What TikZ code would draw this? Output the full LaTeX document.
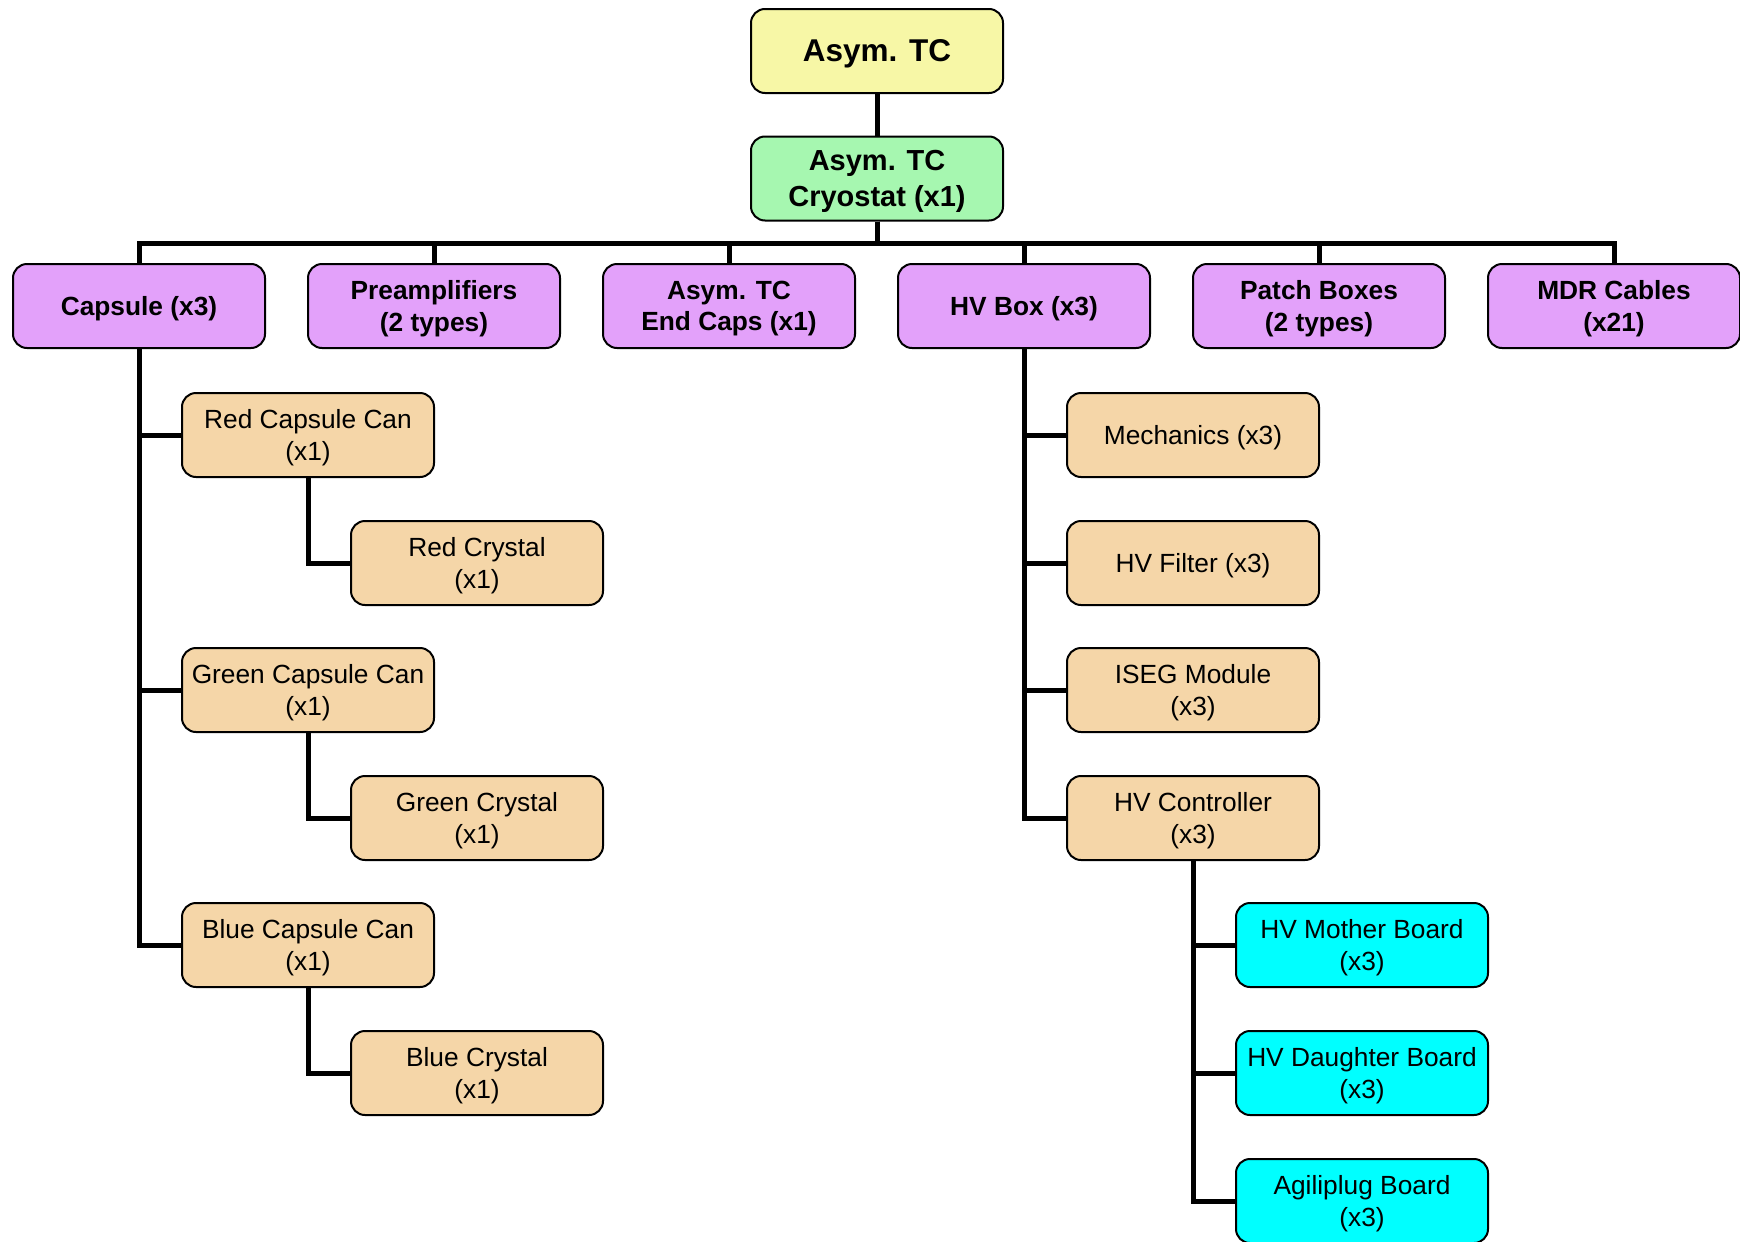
\documentclass[tikz,border=0pt]{standalone}
\usepackage{fontspec}
\setmainfont{Liberation Sans}
\definecolor{yel}{RGB}{247,247,166}
\definecolor{grn}{RGB}{166,247,176}
\definecolor{purp}{RGB}{227,161,250}
\definecolor{tanc}{RGB}{245,214,168}
\definecolor{cyn}{RGB}{0,255,255}
\begin{document}
\begin{tikzpicture}[x=1pt,y=-1pt,
  box/.style={draw=black, line width=2pt, rounded corners=14pt, minimum width=252pt, minimum height=84pt, align=center, inner sep=0pt, text depth=-2.5pt, font=\fontsize{26.3}{31.5}\selectfont},
  lvltwo/.style={box, fill=purp, font=\fontsize{26.3}{31.5}\selectfont\bfseries},
  part/.style={box, fill=tanc},
  board/.style={box, fill=cyn},
  conn/.style={line width=5pt, line join=miter}]
\useasboundingbox (0,0) rectangle (1740,1242);
% top levels
\node[box, fill=yel, font=\fontsize{31.5}{37}\selectfont\bfseries] (top) at (877,51) {Asym. TC};
\node[box, fill=grn, font=\fontsize{29}{35.5}\selectfont\bfseries] (cry) at (877,178.5) {Asym. TC\\Cryostat (x1)};
% level 2
\node[lvltwo] (cap) at (139,306) {Capsule (x3)};
\node[lvltwo] (pre) at (434,306) {Preamplifiers\\(2 types)};
\node[lvltwo] (end) at (729,306) {Asym. TC\\End Caps (x1)};
\node[lvltwo] (hvb) at (1024,306) {HV Box (x3)};
\node[lvltwo] (pat) at (1319,306) {Patch Boxes\\(2 types)};
\node[lvltwo] (mdr) at (1614,306) {MDR Cables\\(x21)};
% capsule branch
\node[part] (rcan) at (308,435) {Red Capsule Can\\(x1)};
\node[part] (rcry) at (477,563) {Red Crystal\\(x1)};
\node[part] (gcan) at (308,690) {Green Capsule Can\\(x1)};
\node[part] (gcry) at (477,818) {Green Crystal\\(x1)};
\node[part] (bcan) at (308,945) {Blue Capsule Can\\(x1)};
\node[part] (bcry) at (477,1073) {Blue Crystal\\(x1)};
% HV box branch
\node[part] (mech) at (1193,435) {Mechanics (x3)};
\node[part] (filt) at (1193,563) {HV Filter (x3)};
\node[part] (iseg) at (1193,690) {ISEG Module\\(x3)};
\node[part] (ctrl) at (1193,818) {HV Controller\\(x3)};
% controller branch
\node[board] (mb) at (1362,945) {HV Mother Board\\(x3)};
\node[board] (db) at (1362,1073) {HV Daughter Board\\(x3)};
\node[board] (ab) at (1362,1201) {Agiliplug Board\\(x3)};
% connectors
\draw[conn] (top.south) -- (cry.north);
\foreach \n in {cap,pre,end,hvb,pat,mdr}
  \draw[conn] (cry.south) -- ++(0,21.5) -| (\n.north);
\foreach \n in {rcan,gcan,bcan}
  \draw[conn] (cap.south) |- (\n.west);
\draw[conn] (rcan.south) |- (rcry.west);
\draw[conn] (gcan.south) |- (gcry.west);
\draw[conn] (bcan.south) |- (bcry.west);
\foreach \n in {mech,filt,iseg,ctrl}
  \draw[conn] (hvb.south) |- (\n.west);
\foreach \n in {mb,db,ab}
  \draw[conn] (ctrl.south) |- (\n.west);
\end{tikzpicture}
\end{document}
